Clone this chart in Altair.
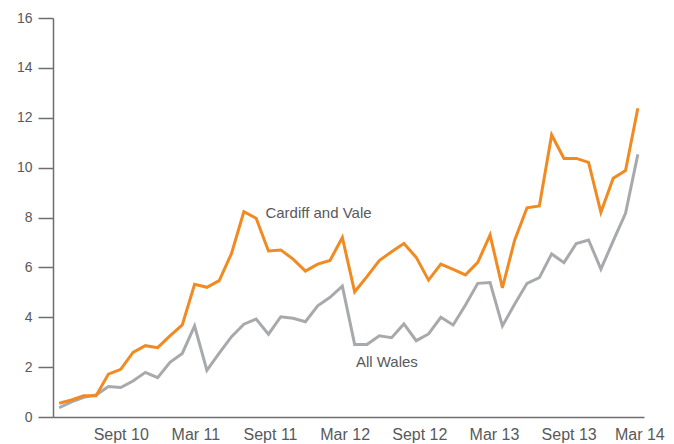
import altair as alt
import pandas as pd

month_names = ["Apr", "May", "Jun", "Jul", "Aug", "Sept", "Oct", "Nov", "Dec", "Jan", "Feb", "Mar"]

cardiff = [0.55, 0.68, 0.85, 0.85, 1.72, 1.91, 2.59, 2.86, 2.78, 3.25, 3.69, 5.32,
           5.20, 5.47, 6.56, 8.23, 7.97, 6.66, 6.70, 6.33, 5.85, 6.13, 6.28, 7.20,
           5.02, 5.63, 6.27, 6.63, 6.96, 6.40, 5.49, 6.13, 5.92, 5.70, 6.20, 7.30,
           5.18, 7.10, 8.39, 8.46, 11.31, 10.37, 10.37, 10.21, 8.21, 9.57, 9.88, 12.38]
wales = [0.37, 0.61, 0.79, 0.88, 1.22, 1.18, 1.44, 1.79, 1.58, 2.19, 2.55, 3.65,
         1.87, 2.56, 3.22, 3.72, 3.93, 3.32, 4.02, 3.96, 3.82, 4.46, 4.80, 5.25,
         2.91, 2.91, 3.26, 3.18, 3.73, 3.06, 3.33, 4.00, 3.69, 4.49, 5.36, 5.39,
         3.65, 4.53, 5.36, 5.59, 6.54, 6.19, 6.96, 7.10, 5.93, 7.06, 8.17, 10.53]

tick_labels = ["Sept 10", "Mar 11", "Sept 11", "Mar 12", "Sept 12", "Mar 13", "Sept 13", "Mar 14"]
tick_index = [5, 11, 17, 23, 29, 35, 41, 47]
y_ticks = [0, 2, 4, 6, 8, 10, 12, 14, 16]

series_names = ["Cardiff and Vale", "All Wales"]
label_index = [16.75, 24.1]
label_value = [8.18, 2.2]

ORANGE = "#F18A21"
GRAY = "#A7A9AC"
TEXT = "#58595B"
AXIS = "#6D6E70"

n = len(cardiff)
idx = list(range(n))
df = pd.DataFrame({
    "i": idx * 2,
    "series": ["Cardiff and Vale"] * n + ["All Wales"] * n,
    "value": cardiff + wales,
})
labels_df = pd.DataFrame({"i": label_index, "value": label_value, "text": series_names})

label_map = "{" + ",".join(f"'{k}':'{v}'" for k, v in zip(tick_index, tick_labels)) + "}"
label_expr = label_map + "[datum.value]"
last_tick = tick_index[-1]

xscale = alt.Scale(domain=[-0.5, n - 0.5], nice=False, zero=False)
yscale = alt.Scale(domain=[0, 16], nice=False)

x = alt.X("i:Q", scale=xscale,
          axis=alt.Axis(values=tick_index, labelExpr=label_expr, ticks=False, grid=False,
                        title=None, labelFontSize=16, labelColor=TEXT, labelPadding=9,
                        domainColor=AXIS, domainWidth=1.5, labelFlush=False,
                        labelOverlap=False,
                        labelOffset=alt.ExprRef(
                            expr=f"datum.value >= {last_tick} ? 1.5 : (datum.value - 5) * 0.13")))
y = alt.Y("value:Q", scale=yscale,
          axis=alt.Axis(values=y_ticks, grid=False, title=None, tickSize=15,
                        tickColor=AXIS, tickWidth=1.5, domainColor=AXIS, domainWidth=1.5,
                        labelFontSize=14, labelColor=TEXT, labelPadding=6))

gray_line = alt.Chart(df).transform_filter(alt.datum.series == "All Wales").mark_line(
    color=GRAY, strokeWidth=3).encode(x=x, y=y)
orange_line = alt.Chart(df).transform_filter(alt.datum.series == "Cardiff and Vale").mark_line(
    color=ORANGE, strokeWidth=3).encode(x=x, y=y)
texts = alt.Chart(labels_df).mark_text(align="left", baseline="middle", fontSize=15,
                                       color=TEXT).encode(
    x=alt.X("i:Q", scale=xscale), y=alt.Y("value:Q", scale=yscale), text="text:N")

chart = alt.layer(gray_line, orange_line, texts).properties(
    width=591, height=399,
    autosize=alt.AutoSizeParams(type="none"),
    padding={"left": 45, "top": 10, "right": 22, "bottom": 27},
).configure(font="Liberation Sans").configure_view(stroke=None)

chart.save("out.html", embed_options={"renderer": "svg", "actions": False})
